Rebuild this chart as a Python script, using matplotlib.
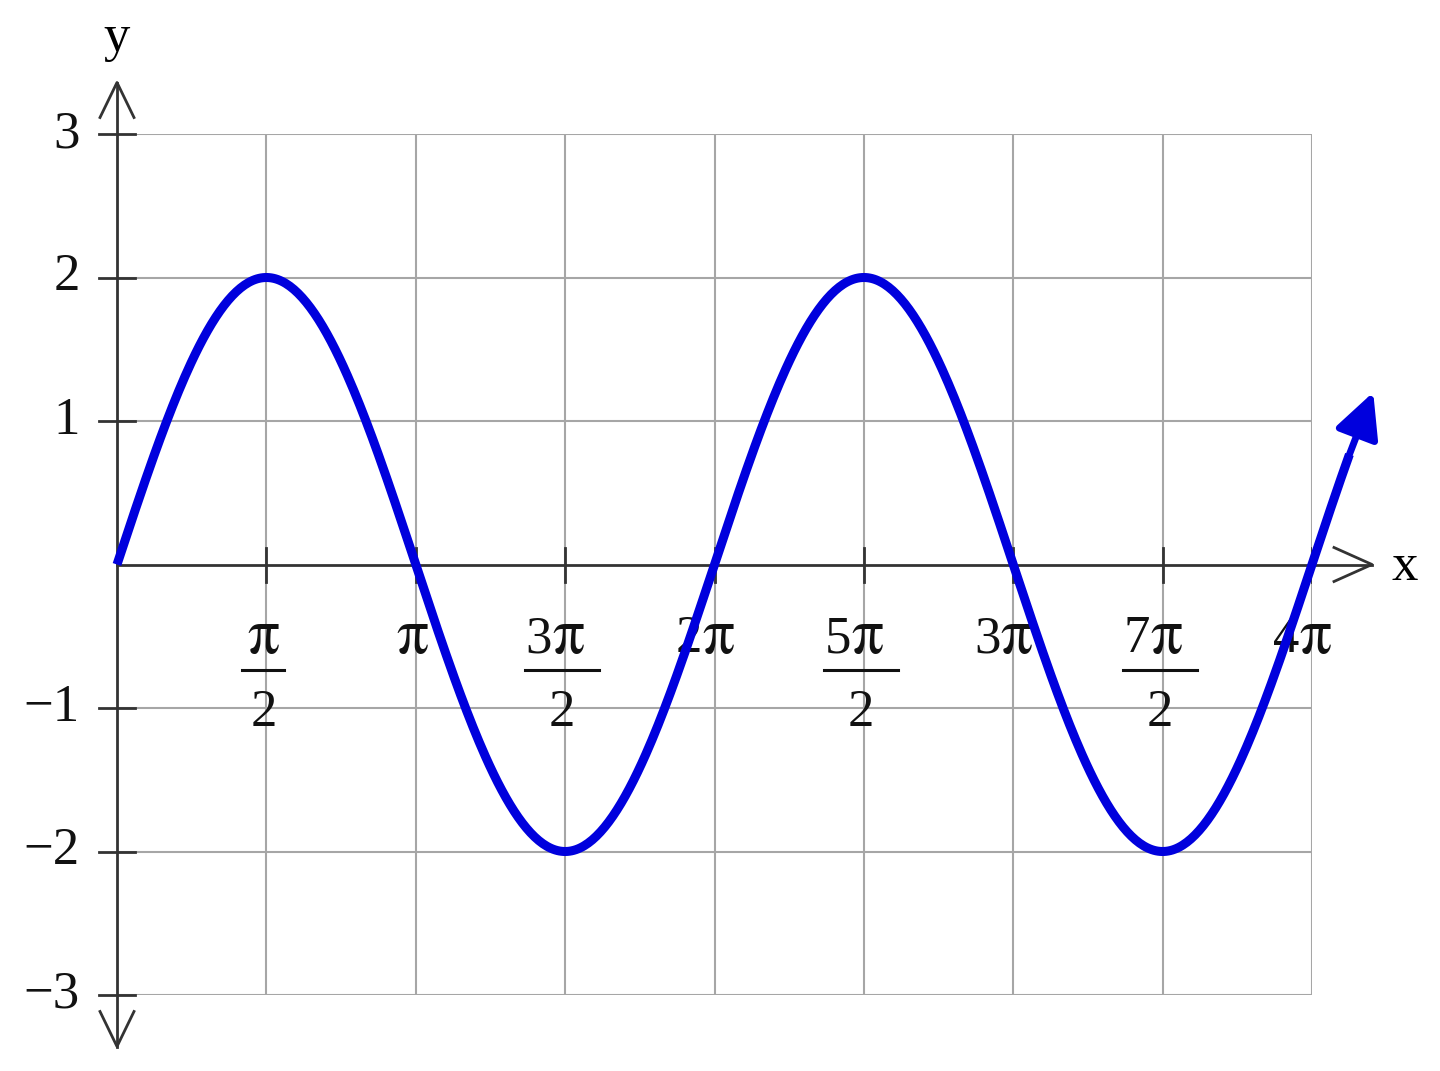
import numpy as np
import matplotlib
matplotlib.use("Agg")
import matplotlib.pyplot as plt
from matplotlib.patches import FancyArrowPatch

# chart values
amplitude = 2
x_end = 13.21                      # curve stops a little past 4*pi
x_tick_halves = [1, 2, 3, 4, 5, 6, 7, 8]   # ticks at k*pi/2
x_tick_coefs = ["", "", "3", "2", "5", "3", "7", "4"]   # digit in front of pi
x_tick_denoms = ["2", "", "2", "", "2", "", "2", ""]
y_ticks = [-3, -2, -1, 1, 2, 3]
y_tick_labels = ["\u22123", "\u22122", "\u22121", "1", "2", "3"]

plt.rcParams["font.family"] = ["Liberation Serif", "DejaVu Serif"]
plt.rcParams["mathtext.fontset"] = "stix"
FS = 38
PI = r"$\mathrm{\pi}$"
PI_FS = 46
txt_c = "#111111"

fig = plt.figure(figsize=(14.4, 10.71), dpi=100)
ax = fig.add_axes([117 / 1440, 76 / 1071, 1195 / 1440, 861 / 1071])
ax.set_xlim(0, 4 * np.pi)
ax.set_ylim(-3, 3)
ax.axis("off")

px_x = 1195 / (4 * np.pi)   # pixels per x unit
px_y = 861 / 6              # pixels per y unit

grid_c = "#a6a6a6"
axis_c = "#333333"

# grid
for k in range(1, 9):
    ax.plot([k * np.pi / 2] * 2, [-3, 3], color=grid_c, lw=1.5, zorder=1)
for v in range(-3, 4):
    if v != 0:
        ax.plot([0, 4 * np.pi], [v, v], color=grid_c, lw=1.5, zorder=1)

# axes lines
y_ax_end = 482 / px_y
x_ax_end = 1255 / px_x
ax.plot([0, 0], [-y_ax_end, y_ax_end], color=axis_c, lw=2, clip_on=False, zorder=2)
ax.plot([0, x_ax_end], [0, 0], color=axis_c, lw=2, clip_on=False, zorder=2)

# open arrowheads
dx = 17 / px_x
dy = 35 / px_y
ax.plot([-dx, 0, dx], [y_ax_end - dy, y_ax_end, y_ax_end - dy], color=axis_c, lw=2, clip_on=False)
ax.plot([-dx, 0, dx], [-y_ax_end + dy, -y_ax_end, -y_ax_end + dy], color=axis_c, lw=2, clip_on=False)
ax.plot([x_ax_end - 38 / px_x, x_ax_end, x_ax_end - 38 / px_x],
        [17 / px_y, 0, -17 / px_y], color=axis_c, lw=2, clip_on=False)

# tick marks
for v in y_ticks:
    ax.plot([-18 / px_x, 18 / px_x], [v, v], color=axis_c, lw=2, clip_on=False, zorder=2)
for k in x_tick_halves:
    ax.plot([k * np.pi / 2] * 2, [-17 / px_y, 17 / px_y], color=axis_c, lw=2, zorder=2)

# tick labels
for v, lab in zip(y_ticks, y_tick_labels):
    ax.text(-37 / px_x, v, lab, fontsize=FS, ha="right", va="center", color=txt_c)

base_num = -88 / px_y
base_den = -162 / px_y
for k, coef, den in zip(x_tick_halves, x_tick_coefs, x_tick_denoms):
    xt = k * np.pi / 2
    if coef:
        xj = xt - 13 / px_x
        ax.text(xj, base_num, coef, fontsize=FS, ha="right", va="baseline", color=txt_c)
        ax.text(xj, base_num, PI, fontsize=PI_FS, ha="left", va="baseline", color=txt_c)
    else:
        ax.text(xt - 3 / px_x, base_num, PI, fontsize=PI_FS, ha="center", va="baseline", color=txt_c)
    if den:
        xc = xt - 3 / px_x
        ax.text(xc, base_den, den, fontsize=FS, ha="center", va="baseline", color=txt_c)
        half = (21 if not coef else 37) / px_x
        ax.plot([xc - half, xc + half], [-105 / px_y] * 2, color=txt_c, lw=2.2, zorder=3)

# axis names
ax.text(0, 527 / px_y, "y", fontsize=FS, ha="center", va="center", clip_on=False)
ax.text(1288 / px_x, -3 / px_y, "x", fontsize=FS, ha="center", va="center", clip_on=False)

# curve
blue = "#0000dd"
x = np.linspace(0, x_end - 0.25, 600)
y = amplitude * np.sin(x)
ax.plot(x, y, color=blue, lw=6.5, clip_on=False, zorder=4, solid_capstyle="butt")
arr = FancyArrowPatch((x[-1], y[-1]), (x_end, amplitude * np.sin(x_end)),
                      arrowstyle="-|>,head_length=0.8,head_width=0.4", mutation_scale=34,
                      color=blue, lw=5, clip_on=False, zorder=4, shrinkA=0, shrinkB=0)
ax.add_patch(arr)

fig.savefig("out.png", dpi=100, facecolor="white")
